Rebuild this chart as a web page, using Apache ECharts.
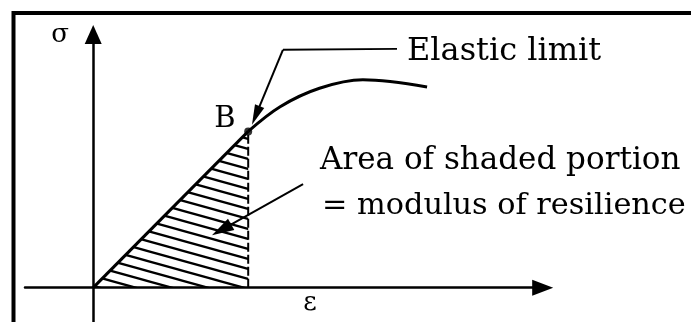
<!DOCTYPE html>
<html><head><meta charset="utf-8">
<script src="https://cdn.jsdelivr.net/npm/echarts/dist/echarts.min.js"></script>
<style>html,body{margin:0;padding:0;background:#fff}#c{width:691px;height:322px}</style>
</head><body><div id="c"></div>
<script>
// Schematic stress (σ) – strain (ε) diagram, arbitrary units
const elasticLine   = [[0, 0], [5, 5]];          // O -> B (elastic region, hatched beneath)
const limitPoint    = [[5, 5]];                  // B, elastic limit
const dropLine      = [[5, 0], [5, 5]];          // dashed ordinate from B
const plasticCurve  = [[5, 5], [6.03, 5.79], [7.3, 6.38], [8.7, 6.65], [10.77, 6.42]];
const elasticLeader = [[9.80, 7.64], [6.12, 7.61]];
const elasticArrow  = [[6.12, 7.61], [5.245, 5.51]];
const areaArrow     = [[6.77, 3.31], [4.14, 1.85]];
const axisRange     = { xMin: -2.2, xMax: 14.5, yMin: -1.1, yMax: 8.1 };
const texts = {
  sigma: 'σ', eps: 'ε', B: 'B',
  elastic: 'Elastic limit',
  area1: 'Area of shaded portion',
  area2: '= modulus of resilience'
};

// hatch pattern tile (slope 10/36)
const hatch = document.createElement('canvas');
hatch.width = 36; hatch.height = 10;
(function(){
  const g = hatch.getContext('2d');
  g.strokeStyle = '#000'; g.lineWidth = 2.3;
  for (let k = -1; k <= 1; k++) {
    g.beginPath();
    g.moveTo(-4, 10 * k - 4 * 10 / 36);
    g.lineTo(40, 10 * k + 10 + 4 * 10 / 36);
    g.stroke();
  }
})();

const chart = echarts.init(document.getElementById('c'), null, { renderer: 'canvas' });
const font = (s) => s + 'px "DejaVu Serif"';
chart.setOption({
  animation: false,
  backgroundColor: '#fff',
  grid: { left: 25, top: 34.5, width: 517.7, height: 288.9, containLabel: false },
  xAxis: {
    type: 'value', min: axisRange.xMin, max: axisRange.xMax,
    axisLine: { onZero: true, symbol: ['none', 'triangle'], symbolSize: [16, 21], lineStyle: { color: '#000', width: 2.5 } },
    axisTick: { show: false }, axisLabel: { show: false }, splitLine: { show: false }
  },
  yAxis: {
    type: 'value', min: axisRange.yMin, max: axisRange.yMax,
    axisLine: { onZero: true, symbol: ['none', 'triangle'], symbolSize: [17, 19], lineStyle: { color: '#000', width: 2.5 } },
    axisTick: { show: false }, axisLabel: { show: false }, splitLine: { show: false }
  },
  series: [
    { type: 'line', data: elasticLine, symbol: 'none', z: 3,
      lineStyle: { color: '#000', width: 3 },
      areaStyle: { color: { image: hatch, repeat: 'repeat' }, opacity: 1 } },
    { type: 'line', data: dropLine, symbol: 'none', z: 3,
      lineStyle: { color: '#000', width: 2, type: [9, 3] } },
    { type: 'line', data: plasticCurve, smooth: 0.35, symbol: 'none', z: 3,
      lineStyle: { color: '#000', width: 3 } },
    { type: 'scatter', data: limitPoint, symbolSize: 8, z: 4, itemStyle: { color: '#000' } },
    { type: 'line', data: elasticLeader, symbol: 'none', z: 3,
      lineStyle: { color: '#000', width: 2 },
      markLine: {
        silent: true, symbol: ['none', 'triangle'], symbolSize: [10, 20],
        lineStyle: { color: '#000', width: 2, type: 'solid' }, label: { show: false },
        emphasis: { disabled: true },
        data: [
          [{ coord: elasticArrow[0] }, { coord: elasticArrow[1] }],
          [{ coord: areaArrow[0] }, { coord: areaArrow[1], symbolSize: [13, 22] }]
        ]
      } }
  ],
  graphic: [
    { type: 'rect', silent: true, shape: { x: 13.5, y: 13, width: 800, height: 400 },
      style: { fill: 'none', stroke: '#000', lineWidth: 4 } },
    { type: 'text', style: { text: texts.sigma, x: 60, y: 35, font: font(26), fill: '#000', align: 'center', verticalAlign: 'middle' } },
    { type: 'text', style: { text: texts.eps, x: 310, y: 303, font: font(26), fill: '#000', align: 'center', verticalAlign: 'middle' } },
    { type: 'text', style: { text: texts.B, x: 225, y: 119.5, font: font(29), fill: '#000', align: 'center', verticalAlign: 'middle' } },
    { type: 'text', style: { text: texts.elastic, x: 407, y: 52, font: font(32), fill: '#000', align: 'left', verticalAlign: 'middle' } },
    { type: 'text', style: { text: texts.area1, x: 320, y: 160.5, font: font(31), fill: '#000', align: 'left', verticalAlign: 'middle' } },
    { type: 'text', style: { text: texts.area2, x: 322, y: 206, font: font(30.3), fill: '#000', align: 'left', verticalAlign: 'middle' } }
  ]
});
</script>
</body></html>
